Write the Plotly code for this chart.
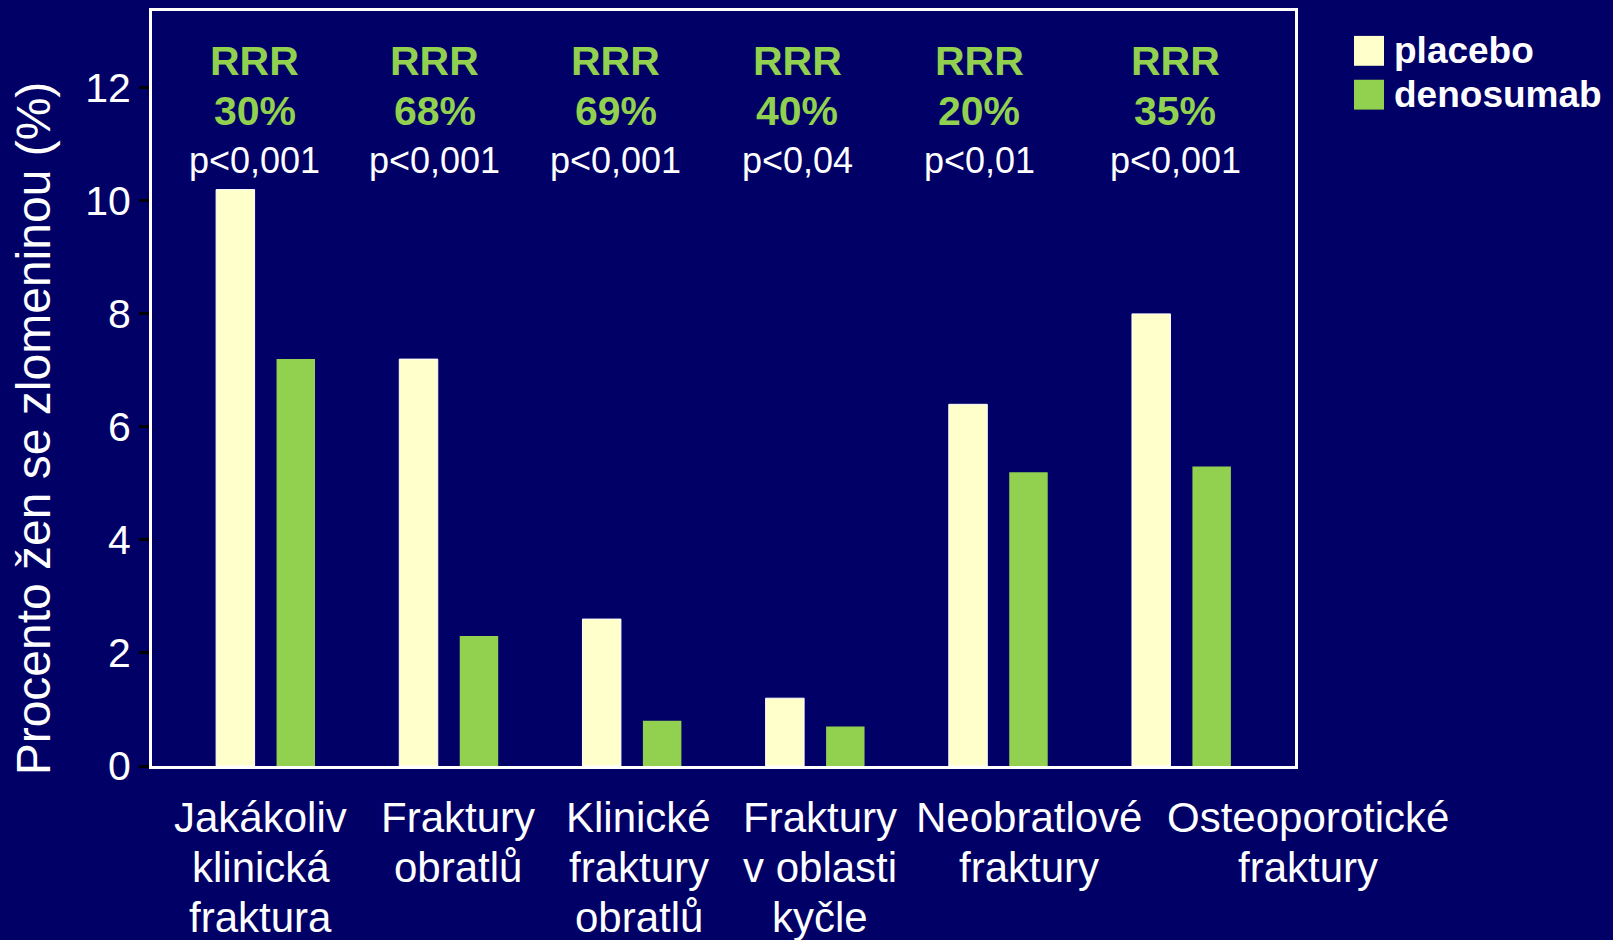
import plotly.graph_objects as go

# -- data
categories = ["Jakákoliv<br>klinická<br>fraktura", "Fraktury<br>obratlů",
              "Klinické<br>fraktury<br>obratlů", "Fraktury<br>v oblasti<br>kyčle",
              "Neobratlové<br>fraktury", "Osteoporotické<br>fraktury"]
placebo = [10.2, 7.2, 2.6, 1.2, 6.4, 8.0]
denosumab = [7.2, 2.3, 0.8, 0.7, 5.2, 5.3]
rrr = ["30%", "68%", "69%", "40%", "20%", "35%"]
p_values = ["p<0,001", "p<0,001", "p<0,001", "p<0,04", "p<0,01", "p<0,001"]
y_ticks = [0, 2, 4, 6, 8, 10, 12]
series_names = ["placebo", "denosumab"]

# -- styling
BG = "#000066"
C_PLACEBO = "#FFFFCC"
C_DENO = "#92D050"
FONT = "Arial, Liberation Sans, sans-serif"

W, H = 1613, 940
L, R, T, B = 152, 1295, 8, 766  # plot area in pixels


def px(x):
    return (x - L) / (R - L)


def py(y):
    return (B - y) / (B - T)


xs = list(range(len(categories)))

fig = go.Figure()
fig.add_trace(go.Bar(x=xs, y=placebo, name=series_names[0], width=0.21, offset=-0.27,
                     marker=dict(color=C_PLACEBO, line=dict(color="#FFFFFF", width=1)),
                     showlegend=False))
fig.add_trace(go.Bar(x=xs, y=denosumab, name=series_names[1], width=0.21, offset=0.06,
                     marker=dict(color=C_DENO, line=dict(width=0)),
                     showlegend=False))

annotations = []
# -- RRR / p-value labels above each group
rrr_shift = [-11, -14, -16, -18, -19, -6]
for i in xs:
    for txt, ypix, size, color, bold in [("RRR", 58, 41, C_DENO, True),
                                         (rrr[i], 108, 41, C_DENO, True),
                                         (p_values[i], 158, 36, "white", False)]:
        annotations.append(dict(x=i, xref="x", y=py(ypix), yref="paper",
                                text="<b>%s</b>" % txt if bold else txt,
                                showarrow=False, xshift=rrr_shift[i],
                                xanchor="center", yanchor="middle",
                                font=dict(family=FONT, size=size, color=color)))

# -- category labels (placed like the original text boxes)
cat_shift = [-5, 9, 7, 5, 31, 127]
for i, cat in enumerate(categories):
    for j, line in enumerate(cat.split("<br>")):
        annotations.append(dict(x=i, xref="x", y=py(818 + 50 * j), yref="paper",
                                text=line, showarrow=False, xshift=cat_shift[i],
                                xanchor="center", yanchor="middle",
                                font=dict(family=FONT, size=42, color="white")))

# -- y axis title
annotations.append(dict(x=px(33), xref="paper", y=py(427), yref="paper",
                        text="Procento žen se zlomeninou (%)", textangle=-90,
                        showarrow=False, xanchor="center", yanchor="middle",
                        font=dict(family=FONT, size=48, color="white")))

# -- legend drawn by hand (large square swatches)
shapes = []
for k, (name, col) in enumerate(zip(series_names, [C_PLACEBO, C_DENO])):
    top = 33 + 44 * k
    shapes.append(dict(type="rect", xref="paper", yref="paper",
                       x0=px(1354), x1=px(1384), y0=py(top + 30), y1=py(top),
                       fillcolor=col, line=dict(width=0)))
    annotations.append(dict(x=px(1392), xref="paper", y=py(top + 15), yref="paper",
                            text="<b>%s</b>" % name, showarrow=False,
                            xanchor="left", yanchor="middle",
                            font=dict(family=FONT, size=37, color="white")))

fig.update_layout(
    width=W, height=H,
    margin=dict(l=L, r=W - R, t=T, b=H - B, pad=0),
    paper_bgcolor=BG, plot_bgcolor=BG,
    barmode="overlay",
    showlegend=False,
    annotations=annotations,
    shapes=shapes,
    xaxis=dict(range=[-0.62, 5.62], showticklabels=False, ticks="",
               showgrid=False, zeroline=False,
               showline=True, mirror=True, linecolor="white", linewidth=3),
    yaxis=dict(range=[0, 13.36], tickvals=y_ticks, ticks="outside", ticklen=10,
               tickwidth=3, tickcolor="black", showgrid=False, zeroline=False,
               showline=True, mirror=True, linecolor="white", linewidth=3,
               ticklabelstandoff=0,
               tickfont=dict(family=FONT, size=41, color="white")),
)

# -- drop the default page margin so the figure fills the window
fig.write_html("out.html", config={"displayModeBar": False},
               post_script="document.body.style.margin='0';"
                           "document.body.style.background='%s';" % BG)
